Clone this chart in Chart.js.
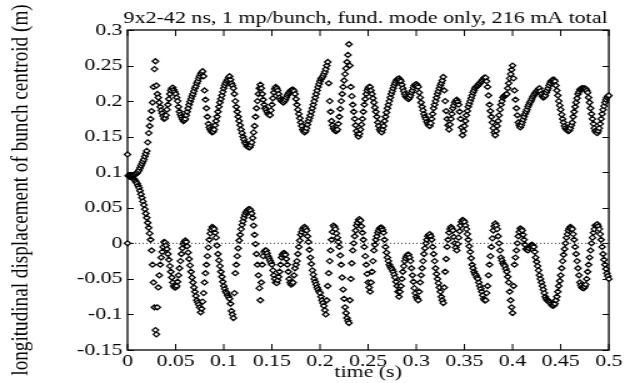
<!DOCTYPE html>
<html>
<head>
<meta charset="utf-8">
<script src="https://cdn.jsdelivr.net/npm/chart.js@4.4.1/dist/chart.umd.min.js"></script>
<style>
  html, body { margin: 0; padding: 0; background: #fff; overflow: hidden; }
  /* the reference figure is stretched sideways, so the canvas is too */
  #wrap { width: 499px; height: 383px; transform: scaleX(1.25); transform-origin: 0 0; }
</style>
</head>
<body>
<div id="wrap"><canvas id="chart" width="499" height="383"></canvas></div>
<script>
// sample spacing along the time axis (s)
const TIME_STEP = 0.001;

// upper bunch centroid (m), one value per TIME_STEP from t = 0
const upperCentroid = [
  0.125, 0.095, 0.095, 0.095, 0.095, 0.095, 0.096, 0.096, 0.097, 0.098,
  0.099, 0.101, 0.103, 0.106, 0.109, 0.112, 0.115, 0.118, 0.122, 0.126,
  0.130, 0.142, 0.155, 0.165, 0.175, 0.186, 0.198, 0.220, 0.245, 0.256,
  0.222, 0.210, 0.205, 0.198, 0.192, 0.187, 0.183, 0.179, 0.175, 0.176,
  0.180, 0.188, 0.195, 0.203, 0.210, 0.215, 0.218, 0.219, 0.216, 0.213,
  0.210, 0.205, 0.200, 0.192, 0.185, 0.181, 0.178, 0.175, 0.172, 0.173,
  0.175, 0.180, 0.185, 0.190, 0.195, 0.199, 0.203, 0.207, 0.210, 0.214,
  0.218, 0.221, 0.225, 0.228, 0.232, 0.235, 0.238, 0.240, 0.242, 0.235,
  0.215, 0.202, 0.190, 0.178, 0.168, 0.163, 0.160, 0.158, 0.156, 0.157,
  0.160, 0.166, 0.172, 0.178, 0.185, 0.192, 0.198, 0.203, 0.208, 0.213,
  0.218, 0.222, 0.225, 0.228, 0.230, 0.233, 0.235, 0.230, 0.225, 0.222,
  0.218, 0.210, 0.200, 0.192, 0.185, 0.178, 0.172, 0.166, 0.160, 0.155,
  0.150, 0.146, 0.142, 0.140, 0.137, 0.136, 0.135, 0.135, 0.138, 0.142,
  0.148, 0.156, 0.165, 0.178, 0.190, 0.200, 0.210, 0.218, 0.223, 0.218,
  0.210, 0.202, 0.195, 0.190, 0.188, 0.185, 0.182, 0.181, 0.180, 0.187,
  0.195, 0.204, 0.212, 0.217, 0.220, 0.218, 0.215, 0.210, 0.205, 0.202,
  0.200, 0.199, 0.198, 0.200, 0.202, 0.205, 0.208, 0.210, 0.212, 0.214,
  0.215, 0.216, 0.216, 0.214, 0.210, 0.203, 0.195, 0.188, 0.182, 0.176,
  0.170, 0.165, 0.160, 0.158, 0.156, 0.158, 0.162, 0.167, 0.172, 0.176,
  0.180, 0.185, 0.190, 0.195, 0.200, 0.205, 0.210, 0.215, 0.220, 0.224,
  0.228, 0.231, 0.233, 0.235, 0.238, 0.241, 0.245, 0.250, 0.255, 0.225,
  0.200, 0.185, 0.172, 0.166, 0.162, 0.160, 0.158, 0.158, 0.160, 0.168,
  0.178, 0.189, 0.200, 0.210, 0.220, 0.229, 0.238, 0.246, 0.255, 0.265,
  0.280, 0.250, 0.220, 0.207, 0.195, 0.185, 0.175, 0.166, 0.158, 0.153,
  0.150, 0.154, 0.160, 0.167, 0.175, 0.185, 0.195, 0.203, 0.210, 0.215,
  0.218, 0.220, 0.220, 0.215, 0.210, 0.204, 0.198, 0.191, 0.185, 0.178,
  0.170, 0.165, 0.160, 0.158, 0.156, 0.160, 0.165, 0.172, 0.178, 0.184,
  0.190, 0.195, 0.200, 0.205, 0.210, 0.214, 0.218, 0.222, 0.225, 0.228,
  0.230, 0.231, 0.232, 0.230, 0.228, 0.223, 0.218, 0.214, 0.210, 0.207,
  0.205, 0.204, 0.203, 0.205, 0.208, 0.212, 0.215, 0.219, 0.222, 0.223,
  0.224, 0.222, 0.220, 0.212, 0.205, 0.198, 0.192, 0.187, 0.182, 0.178,
  0.175, 0.171, 0.168, 0.166, 0.165, 0.169, 0.175, 0.182, 0.190, 0.195,
  0.200, 0.205, 0.210, 0.214, 0.218, 0.222, 0.225, 0.229, 0.234, 0.215,
  0.200, 0.186, 0.175, 0.166, 0.160, 0.167, 0.175, 0.182, 0.190, 0.194,
  0.198, 0.200, 0.202, 0.199, 0.195, 0.185, 0.175, 0.163, 0.152, 0.158,
  0.165, 0.172, 0.180, 0.186, 0.192, 0.196, 0.200, 0.204, 0.208, 0.212,
  0.215, 0.218, 0.220, 0.221, 0.222, 0.224, 0.225, 0.227, 0.228, 0.230,
  0.232, 0.233, 0.233, 0.228, 0.220, 0.208, 0.195, 0.186, 0.178, 0.170,
  0.162, 0.156, 0.152, 0.158, 0.165, 0.172, 0.180, 0.188, 0.195, 0.200,
  0.205, 0.207, 0.208, 0.209, 0.210, 0.218, 0.225, 0.232, 0.238, 0.244,
  0.250, 0.232, 0.215, 0.202, 0.190, 0.180, 0.170, 0.166, 0.163, 0.166,
  0.170, 0.174, 0.178, 0.182, 0.185, 0.188, 0.192, 0.195, 0.198, 0.200,
  0.203, 0.206, 0.208, 0.210, 0.212, 0.214, 0.215, 0.217, 0.218, 0.214,
  0.210, 0.207, 0.205, 0.206, 0.208, 0.212, 0.215, 0.218, 0.222, 0.225,
  0.228, 0.229, 0.230, 0.230, 0.228, 0.222, 0.215, 0.208, 0.200, 0.194,
  0.188, 0.181, 0.175, 0.170, 0.165, 0.162, 0.160, 0.159, 0.158, 0.159,
  0.162, 0.166, 0.170, 0.178, 0.185, 0.192, 0.198, 0.204, 0.210, 0.213,
  0.216, 0.217, 0.218, 0.218, 0.218, 0.218, 0.217, 0.215, 0.212, 0.205,
  0.198, 0.190, 0.182, 0.175, 0.168, 0.162, 0.158, 0.156, 0.155, 0.158,
  0.162, 0.168, 0.175, 0.182, 0.188, 0.193, 0.198, 0.202, 0.205, 0.207,
  0.208
];

// lower bunch centroid (m)
const lowerCentroid = [
  0.000, 0.095, 0.094, 0.094, 0.093, 0.092, 0.091, 0.090, 0.088, 0.086,
  0.084, 0.081, 0.078, 0.074, 0.069, 0.064, 0.059, 0.054, 0.048, 0.042,
  0.036, 0.029, 0.022, 0.014, 0.005, -0.010, -0.030, -0.055, -0.090, -0.122,
  -0.128, -0.090, -0.062, -0.045, -0.030, -0.020, -0.012, -0.005, 0.002, 0.001,
  -0.003, -0.008, -0.015, -0.023, -0.032, -0.040, -0.048, -0.055, -0.060, -0.062,
  -0.062, -0.060, -0.054, -0.045, -0.035, -0.025, -0.015, -0.007, -0.001, 0.002,
  0.004, 0.002, -0.004, -0.013, -0.022, -0.031, -0.040, -0.048, -0.055, -0.062,
  -0.068, -0.074, -0.080, -0.083, -0.086, -0.090, -0.097, -0.092, -0.082, -0.070,
  -0.055, -0.042, -0.030, -0.018, -0.006, 0.005, 0.014, 0.019, 0.023, 0.022,
  0.020, 0.015, 0.008, -0.003, -0.015, -0.024, -0.032, -0.040, -0.047, -0.054,
  -0.060, -0.064, -0.068, -0.070, -0.073, -0.075, -0.078, -0.085, -0.095, -0.100,
  -0.105, -0.070, -0.042, -0.030, -0.018, -0.007, 0.004, 0.012, 0.020, 0.026,
  0.031, 0.036, 0.040, 0.043, 0.045, 0.047, 0.048, 0.048, 0.046, 0.042,
  0.036, 0.025, 0.012, -0.001, -0.015, -0.030, -0.045, -0.063, -0.080, -0.055,
  -0.030, -0.018, -0.012, -0.010, -0.010, -0.014, -0.018, -0.021, -0.024, -0.027,
  -0.030, -0.038, -0.045, -0.050, -0.055, -0.056, -0.052, -0.047, -0.040, -0.030,
  -0.020, -0.016, -0.014, -0.014, -0.016, -0.022, -0.030, -0.040, -0.050, -0.055,
  -0.058, -0.057, -0.055, -0.045, -0.035, -0.030, -0.025, -0.015, -0.005, 0.004,
  0.012, 0.016, 0.020, 0.022, 0.023, 0.021, 0.018, 0.010, 0.002, -0.009,
  -0.020, -0.029, -0.038, -0.044, -0.050, -0.054, -0.058, -0.062, -0.065, -0.068,
  -0.070, -0.075, -0.080, -0.084, -0.088, -0.094, -0.100, -0.080, -0.060, -0.042,
  -0.025, -0.010, 0.005, 0.016, 0.025, 0.023, 0.020, 0.014, 0.008, 0.002,
  -0.005, -0.017, -0.030, -0.048, -0.065, -0.078, -0.090, -0.098, -0.105, -0.109,
  -0.112, -0.080, -0.050, -0.028, -0.010, 0.000, 0.010, 0.018, 0.025, 0.029,
  0.033, 0.034, 0.032, 0.024, 0.015, 0.005, -0.005, -0.018, -0.030, -0.043,
  -0.055, -0.062, -0.068, -0.055, -0.040, -0.025, -0.010, -0.002, 0.005, 0.010,
  0.015, 0.018, 0.021, 0.022, 0.022, 0.019, 0.015, 0.005, -0.005, -0.013,
  -0.020, -0.025, -0.030, -0.033, -0.035, -0.037, -0.040, -0.044, -0.048, -0.054,
  -0.060, -0.068, -0.075, -0.068, -0.060, -0.050, -0.040, -0.032, -0.025, -0.021,
  -0.018, -0.016, -0.016, -0.020, -0.025, -0.035, -0.045, -0.054, -0.063, -0.070,
  -0.075, -0.078, -0.080, -0.068, -0.055, -0.045, -0.035, -0.025, -0.015, -0.007,
  0.000, 0.005, 0.010, 0.012, 0.013, 0.010, 0.005, -0.005, -0.015, -0.025,
  -0.035, -0.043, -0.050, -0.056, -0.062, -0.068, -0.075, -0.080, -0.084, -0.062,
  -0.040, -0.022, -0.005, 0.005, 0.015, 0.020, 0.023, 0.021, 0.018, 0.009,
  0.000, -0.006, -0.010, -0.001, 0.008, 0.017, 0.025, 0.030, 0.033, 0.032,
  0.030, 0.025, 0.020, 0.013, 0.005, -0.004, -0.012, -0.021, -0.030, -0.035,
  -0.040, -0.043, -0.045, -0.048, -0.050, -0.055, -0.060, -0.064, -0.068, -0.073,
  -0.078, -0.080, -0.080, -0.070, -0.060, -0.045, -0.030, -0.018, -0.005, 0.007,
  0.018, 0.024, 0.028, 0.025, 0.020, 0.010, 0.000, -0.010, -0.020, -0.024,
  -0.028, -0.030, -0.032, -0.036, -0.040, -0.047, -0.055, -0.068, -0.080, -0.090,
  -0.098, -0.060, -0.030, -0.020, -0.010, 0.000, 0.010, 0.016, 0.021, 0.020,
  0.018, 0.012, 0.005, -0.002, -0.008, -0.009, -0.010, -0.007, -0.004, -0.003,
  -0.002, -0.003, -0.005, -0.012, -0.020, -0.026, -0.032, -0.038, -0.045, -0.050,
  -0.055, -0.060, -0.065, -0.070, -0.075, -0.078, -0.080, -0.081, -0.082, -0.083,
  -0.085, -0.087, -0.088, -0.087, -0.085, -0.080, -0.075, -0.068, -0.060, -0.053,
  -0.045, -0.035, -0.025, -0.016, -0.008, 0.000, 0.008, 0.013, 0.018, 0.021,
  0.023, 0.022, 0.020, 0.013, 0.005, -0.005, -0.015, -0.025, -0.035, -0.045,
  -0.055, -0.059, -0.062, -0.063, -0.063, -0.061, -0.058, -0.050, -0.040, -0.030,
  -0.020, -0.010, 0.000, 0.008, 0.015, 0.020, 0.025, 0.026, 0.027, 0.024,
  0.020, 0.013, 0.005, -0.005, -0.015, -0.023, -0.030, -0.036, -0.042, -0.046,
  -0.050
];

const xTicks = [0, 0.05, 0.1, 0.15, 0.2, 0.25, 0.3, 0.35, 0.4, 0.45, 0.5];
const yTicks = [-0.15, -0.1, -0.05, 0, 0.05, 0.1, 0.15, 0.2, 0.25, 0.3];
const chartTitle = '9x2-42 ns, 1 mp/bunch, fund. mode only, 216 mA total';

const FAMILY = '"Liberation Serif", "Times New Roman", serif';
const FONT = { family: FAMILY, size: 17.5 };

const toPoints = arr => arr.map((v, i) => ({ x: i * TIME_STEP, y: v }));
const fmt = v => String(parseFloat(Number(v).toFixed(3)));

// gnuplot-like box with inward ticks on all four sides, title over the plot
const framePlugin = {
  id: 'frame',
  beforeDatasetsDraw(chart) {
    const { ctx, chartArea: a, scales: { x, y } } = chart;
    ctx.save();
    ctx.strokeStyle = '#000';
    ctx.lineWidth = 1.3;
    ctx.strokeRect(a.left, a.top, a.right - a.left, a.bottom - a.top);
    ctx.lineWidth = 1;
    ctx.beginPath();
    xTicks.forEach(v => {
      const px = x.getPixelForValue(v);
      ctx.moveTo(px, a.bottom); ctx.lineTo(px, a.bottom - 6);
      ctx.moveTo(px, a.top); ctx.lineTo(px, a.top + 6);
    });
    yTicks.forEach(v => {
      const py = Math.round(y.getPixelForValue(v)) + 0.5;
      ctx.moveTo(a.left, py); ctx.lineTo(a.left + 5, py);
      ctx.moveTo(a.right, py); ctx.lineTo(a.right - 5, py);
    });
    ctx.stroke();

    ctx.fillStyle = '#000';
    ctx.font = `17.6px ${FAMILY}`;
    ctx.textAlign = 'center';
    ctx.textBaseline = 'alphabetic';
    ctx.fillText(chartTitle, (a.left + a.right) / 2 - 2, a.top - 7);
    ctx.restore();
  }
};

const markerStyle = {
  pointStyle: 'rectRot',
  pointRadius: 2.5,
  pointBorderWidth: 1.3,
  pointBorderColor: '#000',
  pointBackgroundColor: '#fff',
  showLine: false,
  clip: false
};

new Chart(document.getElementById('chart'), {
  type: 'scatter',
  data: {
    datasets: [
      {
        type: 'line',
        label: 'zero',
        data: [{ x: xTicks[0], y: 0 }, { x: xTicks[xTicks.length - 1], y: 0 }],
        borderColor: '#333',
        borderWidth: 1,
        borderDash: [1, 2],
        pointRadius: 0,
        order: 3
      },
      { label: 'upper', data: toPoints(upperCentroid), ...markerStyle, order: 1 },
      { label: 'lower', data: toPoints(lowerCentroid), ...markerStyle, order: 2 }
    ]
  },
  options: {
    responsive: false,
    devicePixelRatio: 1,
    animation: false,
    layout: { padding: { left: 0, right: 11, top: 30, bottom: 0 } },
    plugins: {
      legend: { display: false },
      tooltip: { enabled: false },
      title: { display: false }
    },
    scales: {
      x: {
        type: 'linear',
        min: 0,
        max: 0.5,
        afterBuildTicks: s => { s.ticks = xTicks.map(v => ({ value: v })); },
        afterFit: s => { s.height = 33; },
        grid: { display: false, drawTicks: false },
        border: { display: false },
        ticks: { color: '#000', font: FONT, padding: 1, maxRotation: 0, callback: fmt },
        title: { display: true, text: 'time (s)', color: '#000', font: FONT, padding: 0 }
      },
      y: {
        min: -0.15,
        max: 0.3,
        afterBuildTicks: s => { s.ticks = yTicks.map(v => ({ value: v })); },
        afterFit: s => { s.width = 102; },
        grid: { display: false, drawTicks: false },
        border: { display: false },
        ticks: { color: '#000', font: FONT, padding: 4, callback: fmt },
        title: {
          display: true,
          text: 'longitudinal displacement of bunch centroid (m)',
          color: '#000',
          font: { family: FAMILY, size: 19.2 },
          padding: { top: 5, bottom: 4 }
        }
      }
    }
  },
  plugins: [framePlugin]
});
</script>
</body>
</html>
